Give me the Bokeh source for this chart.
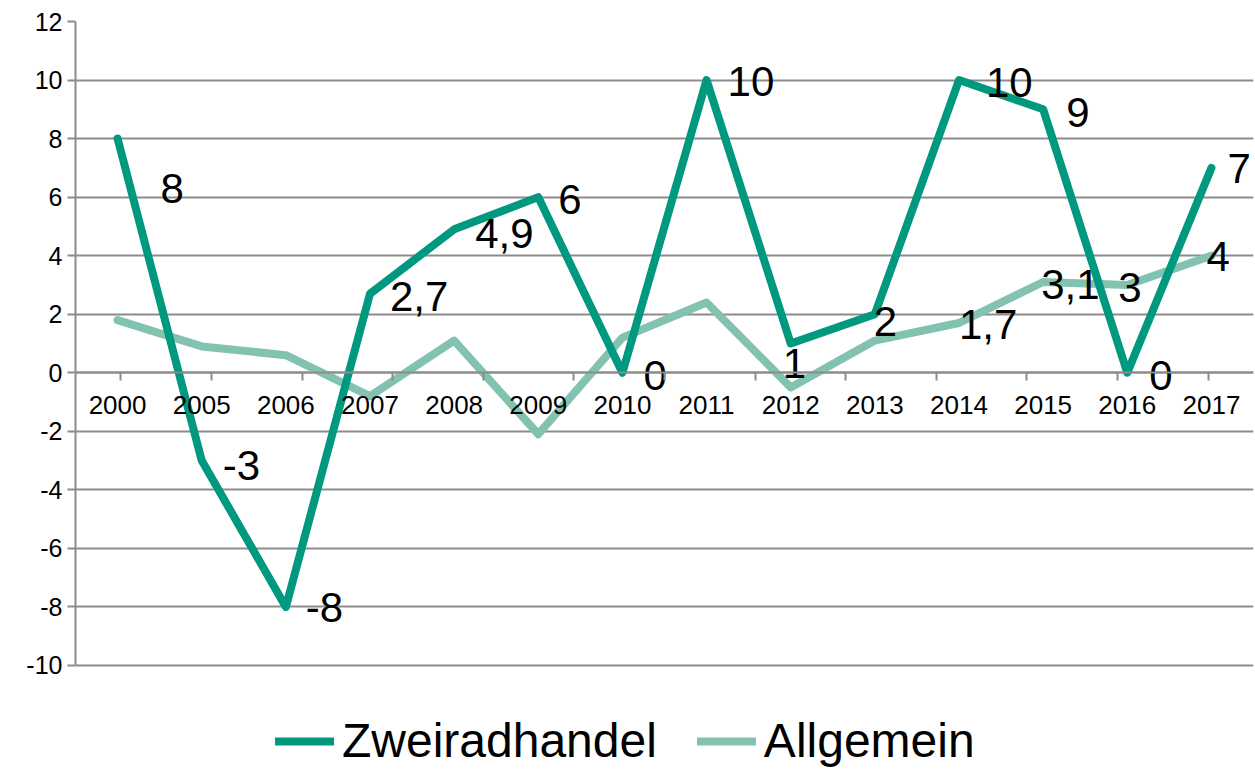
from bokeh.plotting import figure
from bokeh.models import (ColumnDataSource, FactorRange, Range1d, CategoricalAxis,
                          FixedTicker, Legend, LegendItem, CategoricalScale)
from bokeh.core.properties import value
from bokeh.embed import file_html
from bokeh.resources import INLINE

# ---------------- data ----------------
years = ["2000", "2005", "2006", "2007", "2008", "2009", "2010",
         "2011", "2012", "2013", "2014", "2015", "2016", "2017"]
zweiradhandel = [8, -3, -8, 2.7, 4.9, 6, 0, 10, 1, 2, 10, 9, 0, 7]
allgemein = [1.8, 0.9, 0.6, -0.8, 1.1, -2.1, 1.2, 2.4, -0.5, 1.1, 1.7, 3.1, 3.0, 4.0]
allgemein_labelled_years = ["2014", "2015", "2016", "2017"]
y_ticks = [-10, -8, -6, -4, -2, 0, 2, 4, 6, 8, 10, 12]

# label nudges (pixels) – styling only
z_label_dx = [43, 21, 20, 20, 21, 20, 21, 21, -8, -1, 27, 23, 22, 16]
z_label_dy = [50, 5, 1, 3, 4, 2, 3, 1, 20, 7, 2, 3, 3, 1]
a_label_dx = [0, -2, -9, -5]
a_label_dy = [2, 2, 3, 1]

DARK = "#00987F"
LIGHT = "#82C2B1"
GRID = "#8C8C8C"
FONT = "Liberation Sans"


def fmt(v):
    return f"{v:g}".replace(".", ",")


W, H = 1254, 768
p = figure(width=W, height=H,
           x_range=FactorRange(factors=years),
           y_range=Range1d(-13.52, 12),
           output_backend="svg", toolbar_location=None,
           x_axis_location=None, y_axis_location="left",
           min_border_left=75, min_border_right=1,
           min_border_top=21, min_border_bottom=0)
p.outline_line_color = None
p.background_fill_color = "white"
p.border_fill_color = "white"

# y axis
yax = p.yaxis[0]
yax.ticker = FixedTicker(ticks=y_ticks)
yax.bounds = (y_ticks[0], y_ticks[-1])
yax.major_label_overrides = {t: str(t) for t in y_ticks}
yax.axis_line_color = GRID
yax.axis_line_width = 2
yax.major_tick_line_color = GRID
yax.major_tick_line_width = 2
yax.major_tick_in = 0
yax.major_tick_out = 8
yax.minor_tick_line_color = None
yax.major_label_standoff = 5
yax.major_label_text_font = FONT
yax.major_label_text_font_size = "25px"
yax.major_label_text_color = "black"

p.ygrid.ticker = FixedTicker(ticks=y_ticks)
p.ygrid.grid_line_color = GRID
p.ygrid.grid_line_width = 2
p.xgrid.visible = False

# x axis at y = 0: tick marks at the category edges (second categorical
# range whose factor centres fall on the edges), labels at the centres
n = len(years)
edge_factors = [" " * (i + 1) for i in range(n + 1)]
p.extra_x_ranges = {"edges": FactorRange(factors=edge_factors, range_padding=-1,
                                         range_padding_units="absolute")}
p.extra_x_scales = {"edges": CategoricalScale()}
edge_axis = CategoricalAxis(x_range_name="edges", fixed_location=0,
                            axis_line_color=GRID, axis_line_width=2,
                            major_tick_line_color=GRID, major_tick_line_width=2,
                            major_tick_in=0, major_tick_out=8,
                            major_label_text_color=None,
                            major_label_text_font_size="1px",
                            major_label_standoff=0)
p.add_layout(edge_axis, "below")

label_axis = CategoricalAxis(fixed_location=0,
                             axis_line_color=None,
                             major_tick_line_color=None, major_tick_in=0, major_tick_out=0,
                             major_label_standoff=23,
                             major_label_text_font=FONT,
                             major_label_text_font_size="26px",
                             major_label_text_color="black")
p.add_layout(label_axis, "below")

# lines
src = ColumnDataSource(dict(year=years, z=zweiradhandel, a=allgemein))
ra = p.line("year", "a", source=src, line_color=LIGHT, line_width=8,
            line_join="round", line_cap="round")
rz = p.line("year", "z", source=src, line_color=DARK, line_width=8,
            line_join="round", line_cap="round")

# data labels
lab_x = list(years)
lab_y = list(zweiradhandel)
lab_t = [fmt(v) for v in zweiradhandel]
lab_dx = list(z_label_dx)
lab_dy = list(z_label_dy)
for k, yr in enumerate(allgemein_labelled_years):
    i = years.index(yr)
    lab_x.append(yr)
    lab_y.append(allgemein[i])
    lab_t.append(fmt(allgemein[i]))
    lab_dx.append(a_label_dx[k])
    lab_dy.append(a_label_dy[k])
lsrc = ColumnDataSource(dict(x=lab_x, y=lab_y, t=lab_t, dx=lab_dx, dy=lab_dy))
p.text(x="x", y="y", text="t", x_offset="dx", y_offset="dy", source=lsrc,
       text_font=value(FONT), text_font_size="42px", text_color="black",
       text_align="left", text_baseline="middle")

# legend
legend = Legend(items=[LegendItem(label="Zweiradhandel", renderers=[rz]),
                       LegendItem(label="Allgemein", renderers=[ra])],
                orientation="horizontal", location=(200, 0),
                label_text_font=FONT, label_text_font_size="48px",
                label_text_color="black",
                glyph_width=59, glyph_height=40, label_standoff=8, spacing=40,
                padding=0, margin=0, border_line_color=None,
                background_fill_alpha=0)
p.add_layout(legend, "center")

open("out.html", "w").write(file_html(p, INLINE))
